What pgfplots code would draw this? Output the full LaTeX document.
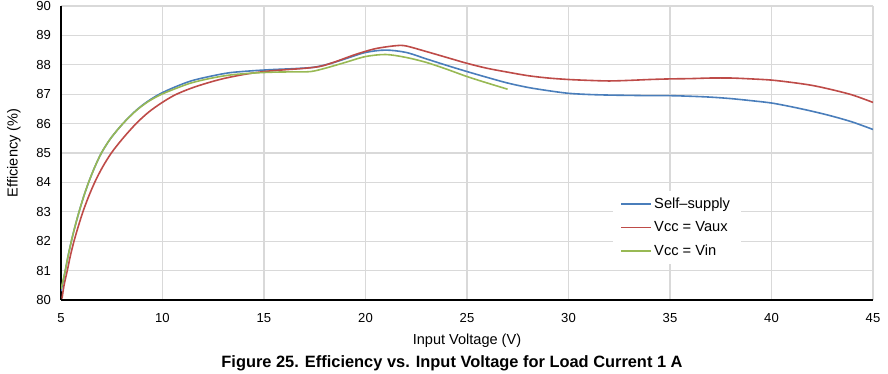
\documentclass[border=0pt]{standalone}
\usepackage{fontspec}
\setmainfont{Liberation Sans}
\usepackage{pgfplots}
\pgfplotsset{compat=1.18}
\definecolor{cblue}{RGB}{74,126,187}
\definecolor{cred}{RGB}{190,75,72}
\definecolor{cgreen}{RGB}{152,185,84}
\definecolor{cgrid}{RGB}{217,217,217}
\begin{document}
\begin{tikzpicture}
\begin{axis}[
  at={(45.75pt,55.5pt)}, anchor=south west,
  scale only axis, width=609pt, height=220.5pt,
  xmin=5, xmax=45, ymin=80, ymax=90,
  xtick={5,10,...,45}, ytick={80,81,...,90},
  axis x line*=bottom, axis y line*=left,
  axis line style={-, line width=1.5pt, black},
  major tick length=0pt,
  grid=major, major grid style={cgrid, line width=0.9pt},
  /pgf/number format/assume math mode=true,
  tick label style={font=\fontsize{9.8}{11}\selectfont},
  xticklabel style={yshift=-6.5pt},
  yticklabel style={xshift=-4pt},
  xlabel={Input Voltage (V)}, ylabel={Efficiency (\%)},
  label style={font=\fontsize{10.9}{12}\selectfont},
  xlabel style={at={(axis description cs:0.5,-0.139)}, anchor=center},
  ylabel style={at={(axis description cs:-0.058,0.5)}, anchor=center},
  legend style={at={(0.679,0.371)}, anchor=north west, draw=none, fill=white,
    font=\fontsize{11}{12}\selectfont, row sep=4.3pt, inner xsep=6pt, inner ysep=3pt},
  legend cell align=left,
  legend image code/.code={\draw[#1] (0pt,0pt) -- (22pt,0pt);},
  every axis plot/.append style={line width=1.2pt, smooth},
]
\addplot[cblue] coordinates {
(5.0,80.3) (5.1,80.62) (5.21,81.0) (5.35,81.5) (5.51,82.0) (5.69,82.5) (5.89,83.0) (6.11,83.5)
(6.36,84.0) (6.65,84.5) (6.99,85.0) (7.45,85.5) (8.05,86.0) (8.7,86.45) (9.3,86.77) (9.9,87.02)
(10.6,87.24) (11.4,87.45) (12.3,87.6) (13.3,87.73) (14.5,87.8) (15.5,87.84)
(16.5,87.87) (17.5,87.92) (18.3,88.05) (19.0,88.2) (20.0,88.42) (21.0,88.5) (22.0,88.42)
(23.0,88.2) (24.0,87.98) (25.0,87.77) (26.0,87.57) (27.0,87.38) (28.0,87.23) (29.0,87.12)
(30.0,87.03) (31.0,86.99) (32.0,86.97) (33.0,86.96) (34.0,86.95) (35.0,86.95) (36.0,86.93)
(37.0,86.9) (38.0,86.85) (39.0,86.78) (40.0,86.7) (41.0,86.57) (42.0,86.42) (43.0,86.25)
(44.0,86.05) (45.0,85.8)
};
\addlegendentry{Self\textendash supply}
\addplot[cred] coordinates {
(5.05,80.05) (5.15,80.5) (5.31,81.0) (5.46,81.5) (5.64,82.0) (5.85,82.5) (6.08,83.0) (6.35,83.5)
(6.66,84.0) (7.03,84.5) (7.48,85.0) (8.05,85.5) (8.7,86.0) (9.3,86.38) (9.9,86.68) (10.6,86.97)
(11.4,87.2) (12.2,87.38) (13.0,87.53) (14.0,87.67)
(15.0,87.77) (16.0,87.83) (17.0,87.88) (17.8,87.95) (18.5,88.1) (19.5,88.35) (20.5,88.55)
(21.5,88.65) (22.0,88.64)
(23.0,88.45) (24.0,88.25) (25.0,88.05) (26.0,87.88) (27.0,87.75) (28.0,87.63) (29.0,87.55)
(30.0,87.5) (31.0,87.47) (32.0,87.45) (33.0,87.47) (34.0,87.5) (35.0,87.52) (36.0,87.53)
(37.0,87.55) (38.0,87.55) (39.0,87.52) (40.0,87.48) (41.0,87.4) (42.0,87.3) (43.0,87.15)
(44.0,86.97) (45.0,86.72)
};
\addlegendentry{Vcc = Vaux}
\addplot[cgreen] coordinates {
(5.0,80.38) (5.1,80.66) (5.21,81.0) (5.35,81.5) (5.51,82.0) (5.69,82.5) (5.89,83.0) (6.11,83.5)
(6.36,84.0) (6.65,84.5) (6.99,85.0) (7.45,85.5) (8.05,86.0) (8.7,86.44) (9.3,86.75) (9.9,86.98)
(10.6,87.18) (11.4,87.38) (12.3,87.53) (13.3,87.65) (14.5,87.72) (15.5,87.75)
(16.5,87.76) (17.3,87.77) (18.0,87.88) (19.0,88.08) (20.0,88.28) (21.0,88.35)
(22.0,88.25) (23.0,88.08) (24.0,87.85) (25.0,87.6) (26.0,87.38) (27.0,87.17)
};
\addlegendentry{Vcc = Vin}
\end{axis}
\node[font=\bfseries\fontsize{12.3}{14}\selectfont] at (339pt,8.25pt) {Figure 25. Efficiency vs. Input Voltage for Load Current 1 A};
\pgfresetboundingbox
\useasboundingbox (0,0) rectangle (666pt,280.5pt);
\end{tikzpicture}
\end{document}
